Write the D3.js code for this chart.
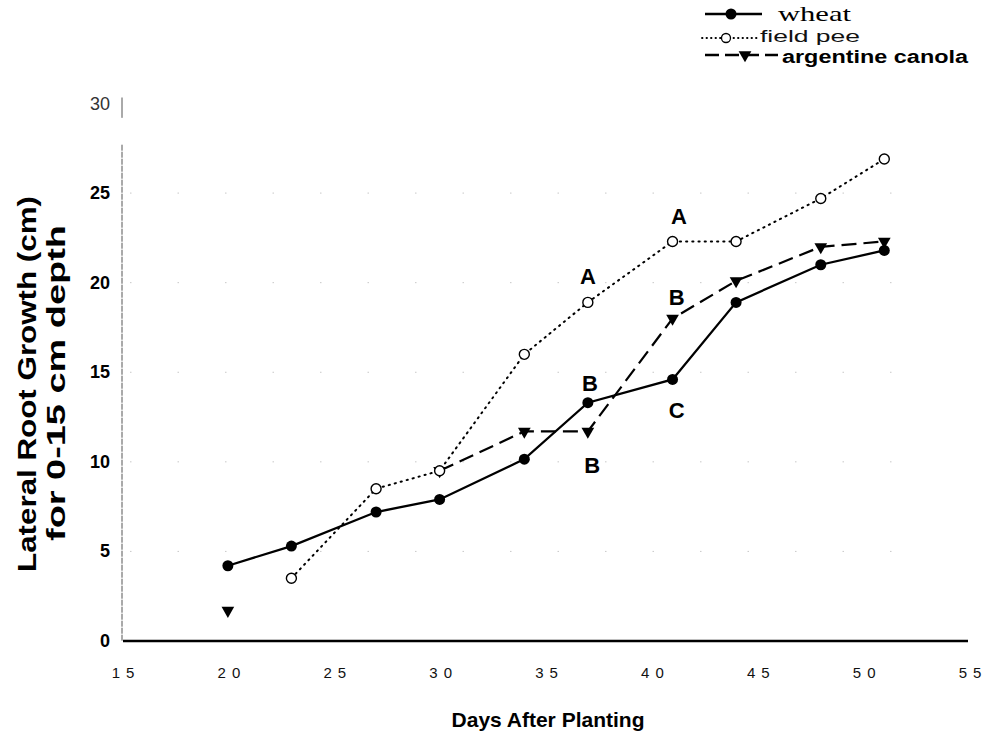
<!doctype html>
<html lang="en">
<head>
<meta charset="utf-8">
<title>Lateral root growth</title>
<script src="https://cdn.jsdelivr.net/npm/d3@7"></script>
<style>
  body { margin: 0; background: #fff; }
  svg { display: block; font-family: "Liberation Sans", Arial, sans-serif; }
</style>
</head>
<body>
<svg id="chart" width="983" height="732"></svg>
<script>
// days sampled
var days = [20, 23, 27, 30, 34, 37, 41, 44, 48, 51];

var wheat  = [4.2, 5.3, 7.2, 7.9, 10.15, 13.3, 14.6, 18.9, 21.0, 21.8];
var pea    = [null, 3.5, 8.5, 9.5, 16.0, 18.9, 22.3, 22.3, 24.7, 26.9];
var canola = [1.7, null, null, 9.5, 11.7, 11.7, 18.0, 20.1, 22.0, 22.3];

var xTicks = [15, 20, 25, 30, 35, 40, 45, 50, 55];
var yTicks = [0, 5, 10, 15, 20, 25, 30];

// letter separations (day, value where the letter sits)
var letters = [
  { t: "A", day: 37.0, v: 20.4 },
  { t: "A", day: 41.3, v: 23.7 },
  { t: "B", day: 41.2, v: 19.2 },
  { t: "B", day: 37.1, v: 14.4 },
  { t: "C", day: 41.2, v: 12.9 },
  { t: "B", day: 37.2, v: 9.8 }
];

var svg = d3.select("#chart");

var x = d3.scaleLinear().domain([15, 55]).range([122, 969]);
var y = d3.scaleLinear().domain([0, 30]).range([641, 103.5]);

// faint dotted grid
svg.append("g")
  .selectAll("line")
  .data(yTicks.filter(function(d) { return d > 0 && d < 30; }))
  .enter().append("line")
  .attr("x1", x(15) + 8).attr("x2", x(55) - 60)
  .attr("y1", function(d) { return y(d); })
  .attr("y2", function(d) { return y(d); })
  .attr("stroke", "#c8c8c8")
  .attr("stroke-width", 1)
  .attr("stroke-dasharray", "1.5,46");

// y axis line (scan is a bit broken near the top)
svg.append("line")
  .attr("x1", x(15)).attr("x2", x(15))
  .attr("y1", y(30) - 6).attr("y2", y(29.2))
  .attr("stroke", "#555").attr("stroke-width", 1);
svg.append("line")
  .attr("x1", x(15)).attr("x2", x(15))
  .attr("y1", y(27.7)).attr("y2", y(0))
  .attr("stroke", "#555").attr("stroke-width", 1)
  .attr("stroke-dasharray", "6,1");

// x axis line
svg.append("line")
  .attr("x1", x(15) + 1).attr("x2", x(55) - 1)
  .attr("y1", y(0)).attr("y2", y(0))
  .attr("stroke", "#000").attr("stroke-width", 2.4);

// y tick labels
svg.append("g")
  .selectAll("text")
  .data(yTicks)
  .enter().append("text")
  .attr("x", 110)
  .attr("y", function(d) { return y(d) + 6; })
  .attr("text-anchor", "end")
  .attr("font-size", 18)
  .attr("font-weight", function(d) { return d === 30 ? "normal" : "bold"; })
  .attr("fill", function(d) { return d === 30 ? "#333" : "#000"; })
  .text(function(d) { return d; });

// x tick labels (digits spread apart, as typed in the original)
var xl = svg.append("g")
  .selectAll("text")
  .data(xTicks)
  .enter().append("text")
  .attr("x", function(d) { return x(d) + 1; })
  .attr("y", 678)
  .attr("text-anchor", "middle")
  .attr("font-size", 15)
  .attr("fill", "#111");
xl.append("tspan").text(function(d) { return String(d).charAt(0); });
xl.append("tspan").attr("dx", 6).text(function(d) { return String(d).charAt(1); });

// axis titles
svg.append("text")
  .attr("x", 548).attr("y", 727)
  .attr("text-anchor", "middle")
  .attr("font-size", 21).attr("font-weight", "bold")
  .text("Days After Planting");

svg.append("text")
  .attr("transform", "translate(36,384) rotate(-90)")
  .attr("text-anchor", "middle")
  .attr("font-size", 25).attr("font-weight", "bold")
  .attr("textLength", 376).attr("lengthAdjust", "spacingAndGlyphs")
  .text("Lateral Root Growth (cm)");
svg.append("text")
  .attr("transform", "translate(65,383) rotate(-90)")
  .attr("text-anchor", "middle")
  .attr("font-size", 25).attr("font-weight", "bold")
  .attr("textLength", 316).attr("lengthAdjust", "spacingAndGlyphs")
  .text("for 0-15 cm depth");

function rows(vals) {
  return days.map(function(d, i) { return { day: d, v: vals[i] }; });
}

var line = d3.line()
  .defined(function(d) { return d.v !== null; })
  .x(function(d) { return x(d.day); })
  .y(function(d) { return y(d.v); });

var series = [
  { name: "pea", data: rows(pea), dash: "1.2,5", width: 2 },
  { name: "canola", data: rows(canola), dash: "15,7", width: 2.2 },
  { name: "wheat", data: rows(wheat), dash: null, width: 2.3 }
];

series.forEach(function(s) {
  svg.append("path")
    .datum(s.data)
    .attr("fill", "none")
    .attr("stroke", "#000")
    .attr("stroke-width", s.width)
    .attr("stroke-linecap", s.name === "pea" ? "round" : "butt")
    .attr("stroke-dasharray", s.dash)
    .attr("d", line);
});

var tri = d3.symbol().type(d3.symbolTriangle).size(70);

// markers
svg.append("g")
  .selectAll("path")
  .data(rows(canola).filter(function(d) { return d.v !== null; }))
  .enter().append("path")
  .attr("d", tri)
  .attr("transform", function(d) { return "translate(" + x(d.day) + "," + y(d.v) + ") rotate(180)"; })
  .attr("fill", "#000");

svg.append("g")
  .selectAll("circle")
  .data(rows(pea).filter(function(d) { return d.v !== null; }))
  .enter().append("circle")
  .attr("cx", function(d) { return x(d.day); })
  .attr("cy", function(d) { return y(d.v); })
  .attr("r", 5)
  .attr("fill", "#fff")
  .attr("stroke", "#000")
  .attr("stroke-width", 1.4);

svg.append("g")
  .selectAll("circle")
  .data(rows(wheat))
  .enter().append("circle")
  .attr("cx", function(d) { return x(d.day); })
  .attr("cy", function(d) { return y(d.v); })
  .attr("r", 5.5)
  .attr("fill", "#000");

// letters
svg.append("g")
  .selectAll("text")
  .data(letters)
  .enter().append("text")
  .attr("x", function(d) { return x(d.day); })
  .attr("y", function(d) { return y(d.v) + 8; })
  .attr("text-anchor", "middle")
  .attr("font-size", 22)
  .attr("font-weight", "bold")
  .text(function(d) { return d.t; });

// legend
var lg = svg.append("g");
lg.append("line").attr("x1", 705).attr("x2", 762).attr("y1", 14).attr("y2", 14)
  .attr("stroke", "#000").attr("stroke-width", 2.3);
lg.append("circle").attr("cx", 731).attr("cy", 14).attr("r", 5.5).attr("fill", "#000");
lg.append("text").attr("x", 778).attr("y", 21)
  .attr("font-family", "'Liberation Serif', 'Times New Roman', serif")
  .attr("font-size", 22).attr("textLength", 73).attr("lengthAdjust", "spacingAndGlyphs")
  .text("wheat");

lg.append("line").attr("x1", 702).attr("x2", 757).attr("y1", 38).attr("y2", 38)
  .attr("stroke", "#000").attr("stroke-width", 1.8)
  .attr("stroke-linecap", "round").attr("stroke-dasharray", "0.5,4");
lg.append("circle").attr("cx", 726).attr("cy", 38).attr("r", 4.5)
  .attr("fill", "#fff").attr("stroke", "#000").attr("stroke-width", 1.3);
lg.append("text").attr("x", 760).attr("y", 42)
  .attr("font-size", 16).attr("fill", "#111")
  .attr("textLength", 100).attr("lengthAdjust", "spacingAndGlyphs")
  .text("field pee");

lg.append("line").attr("x1", 705).attr("x2", 778).attr("y1", 55).attr("y2", 55)
  .attr("stroke", "#000").attr("stroke-width", 2.4).attr("stroke-dasharray", "14,6");
lg.append("path").attr("d", tri)
  .attr("transform", "translate(745,55) rotate(180)").attr("fill", "#000");
lg.append("text").attr("x", 782).attr("y", 63)
  .attr("font-size", 18).attr("font-weight", "bold")
  .attr("textLength", 186).attr("lengthAdjust", "spacingAndGlyphs")
  .text("argentine canola");
</script>
</body>
</html>
